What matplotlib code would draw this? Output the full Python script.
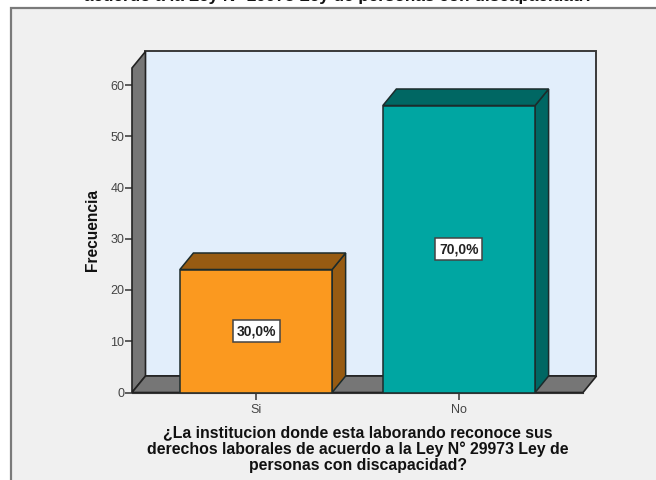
import matplotlib
matplotlib.use('Agg')
import matplotlib.pyplot as plt
from matplotlib.patches import Polygon, Rectangle

plt.rcParams['font.family'] = ['Liberation Sans', 'DejaVu Sans']

categorias = ['Si', 'No']
frecuencias = [24, 56]
porcentajes = ['30,0%', '70,0%']
yticks = [0, 10, 20, 30, 40, 50, 60]

titulo = 'acuerdo a la Ley N° 29973 Ley de personas con discapacidad?'
xlabel = ('¿La institucion donde esta laborando reconoce sus\n'
          'derechos laborales de acuerdo a la Ley N° 29973 Ley de\n'
          'personas con discapacidad?')

colores = ['#fb991f', '#00a6a2']
colores_top = ['#975b12', '#006763']
colores_lado = ['#975b12', '#006763']
BORDE = '#1c2b2b'
GRIS = '#767676'
W, H = 656, 480


def px(x, y):
    """Pixel position (from top left) to figure fraction."""
    return x / W, 1 - y / H


def caja(ax, x0, x1, h, dx, dy, color, top, lado):
    """Draw one 3D bar: front, lid and side."""
    ax.add_patch(Polygon([(x1, 0), (x1 + dx, dy), (x1 + dx, h + dy), (x1, h)],
                         facecolor=lado, edgecolor=BORDE, lw=1.1, clip_on=False, zorder=3))
    ax.add_patch(Polygon([(x0, h), (x0 + dx, h + dy), (x1 + dx, h + dy), (x1, h)],
                         facecolor=top, edgecolor=BORDE, lw=1.1, clip_on=False, zorder=3))
    ax.add_patch(Rectangle((x0, 0), x1 - x0, h, facecolor=color, edgecolor=BORDE,
                           lw=1.1, clip_on=False, zorder=4))


fig = plt.figure(figsize=(W / 100, H / 100), dpi=100, facecolor='white')

# marco gris del grafico, se sale por la derecha y por abajo
fig.add_artist(Rectangle(px(11, 490), 700 / W, 482 / H, transform=fig.transFigure,
                         facecolor='#f0f0f0', edgecolor='#7a7a7a', lw=1.6, zorder=-1))

x0, y0 = px(132, 392.5)
x1, y1 = px(583, 68)
ax = fig.add_axes([x0, y0, x1 - x0, y1 - y0])
ax.set_xlim(-0.611, 1.611)
ax.set_ylim(0, (392.5 - 68) / 5.125)
ax.patch.set_visible(False)
for s in ax.spines.values():
    s.set_visible(False)

# profundidad de la caja en unidades de datos
dx = 13.5 / 203
dy = 16.5 / 5.125
xa, xb = ax.get_xlim()
ya, yb = ax.get_ylim()

ax.add_patch(Rectangle((xa + dx, ya + dy), xb - xa, yb - ya, facecolor='#e2eefb',
                       edgecolor='#3a3a3a', lw=1.4, clip_on=False, zorder=1))
ax.add_patch(Polygon([(xa, ya), (xa + dx, ya + dy), (xa + dx, yb + dy), (xa, yb)],
                     facecolor=GRIS, edgecolor='#222222', lw=1.2, clip_on=False, zorder=2))
ax.add_patch(Polygon([(xa, ya), (xa + dx, ya + dy), (xb + dx, ya + dy), (xb, ya)],
                     facecolor=GRIS, edgecolor='#222222', lw=1.2, clip_on=False, zorder=2))

for i, v in enumerate(frecuencias):
    caja(ax, i - 0.375, i + 0.375, v, dx, dy, colores[i], colores_top[i], colores_lado[i])
    ax.text(i, v / 2, porcentajes[i], ha='center', va='center', fontsize=10,
            fontweight='bold', color='#222222', zorder=6,
            bbox=dict(boxstyle='square,pad=0.27', facecolor='white',
                      edgecolor='#444444', lw=1.1))

ax.set_xticks(range(len(categorias)))
ax.set_xticklabels(categorias)
ax.set_yticks(yticks)
ax.tick_params(axis='both', labelsize=9, labelcolor='#444444', color='#333333',
               length=5, width=1.1)
ax.tick_params(axis='y', pad=0.5)
ax.tick_params(axis='x', pad=3)
ax.spines['bottom'].set_visible(True)
ax.spines['bottom'].set_color('#333333')
ax.spines['bottom'].set_zorder(5)

fig.text(*px(93, 230), 'Frecuencia', rotation=90, ha='center', va='center',
         fontsize=11.2, fontweight='bold', color='#111111')
fig.text(*px(358, 449), xlabel, ha='center', va='center', fontsize=11.4,
         fontweight='bold', color='#111111', linespacing=1.1)
# el titulo queda cortado por el borde superior
fig.text(*px(339, 0.5), titulo, ha='center', va='baseline', fontsize=12.3,
         fontweight='bold', color='#111111')

fig.savefig('out.png', dpi=100, facecolor=fig.get_facecolor())
